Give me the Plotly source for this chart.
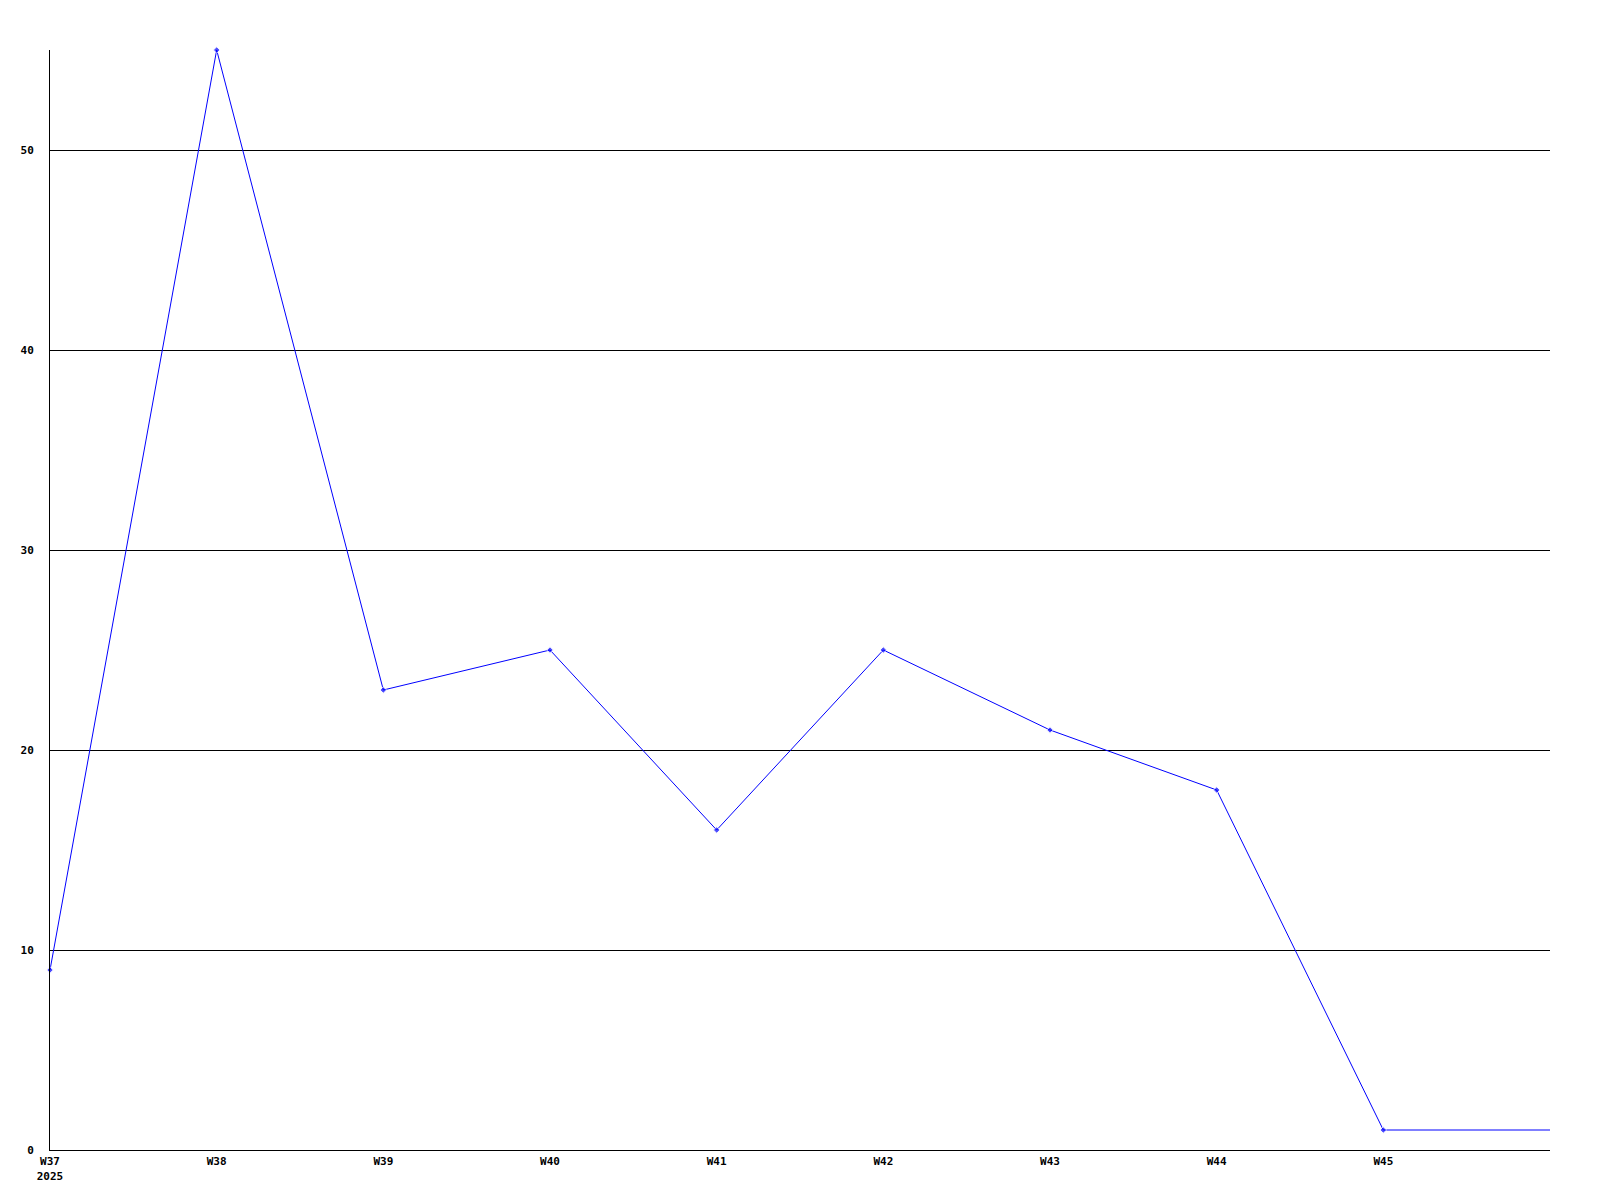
import plotly.graph_objects as go

weeks = ["W37<br>2025", "W38", "W39", "W40", "W41", "W42", "W43", "W44", "W45"]
values = [9, 55, 23, 25, 16, 25, 21, 18, 1]
tail_value = 1  # series continues flat to the right edge (W46)

x_idx = list(range(len(values))) + [len(values)]
y_all = values + [tail_value]
marker_sizes = [5] * len(values) + [0]

font = dict(family="DejaVu Sans Mono", size=11, color="black", weight="bold")

fig = go.Figure()
fig.add_trace(go.Scatter(
    x=x_idx, y=y_all, mode="lines+markers",
    line=dict(color="#0000ff", width=1),
    marker=dict(color="#0000ff", size=marker_sizes, symbol="diamond"),
    cliponaxis=False,
    showlegend=False,
))

fig.update_layout(
    width=1584, height=1184,
    margin=dict(l=42, r=42, t=42, b=42, autoexpand=False),
    paper_bgcolor="white", plot_bgcolor="white",
    font=font,
    xaxis=dict(
        range=[0, len(values)],
        tickvals=list(range(len(weeks))), ticktext=weeks,
        showgrid=False, zeroline=False,
        showline=True, linecolor="black", linewidth=1,
        ticks="", ticklabelstandoff=1, tickfont=font,
    ),
    yaxis=dict(
        range=[0, 55],
        tickvals=[0, 10, 20, 30, 40, 50],
        showgrid=True, gridcolor="black", gridwidth=1,
        zeroline=False,
        showline=True, linecolor="black", linewidth=1,
        ticks="", ticklabelstandoff=13, tickfont=font,
    ),
)

fig.write_html("out.html")
